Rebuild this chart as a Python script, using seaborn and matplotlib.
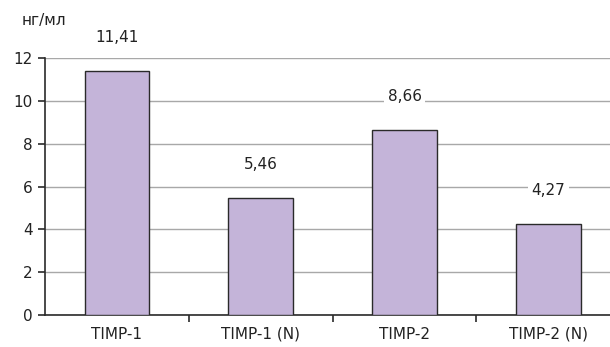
import pandas as pd
import seaborn as sns
import matplotlib.pyplot as plt
from matplotlib.ticker import FixedLocator, NullFormatter

categories = ['TIMP-1', 'TIMP-1 (N)', 'TIMP-2', 'TIMP-2 (N)']
values = [11.41, 5.46, 8.66, 4.27]
value_labels = ['11,41', '5,46', '8,66', '4,27']
y_ticks = [0, 2, 4, 6, 8, 10, 12]
unit_label = 'нг/мл'

sns.set_style('white')
plt.rcParams['font.family'] = ['DejaVu Sans']
plt.rcParams['font.size'] = 11

df = pd.DataFrame({'cat': categories, 'val': values})

fig = plt.figure(figsize=(6.10, 3.47), dpi=100)
ax = fig.add_axes([0.0738, 0.092, 0.943, 0.741])

sns.barplot(data=df, x='cat', y='val', color='#c4b4d9', saturation=1,
            width=0.45, edgecolor='#2a2a2a', linewidth=1.0, ax=ax, zorder=3)

ax.set_ylim(0, 12)
ax.set_xlim(-0.5, 3.5)
ax.set_yticks(y_ticks)
ax.yaxis.grid(True, color='#a8a8a8', linewidth=1.0, zorder=0)
ax.set_axisbelow(True)
ax.set_xlabel('')
ax.set_ylabel('')

for s in ['top', 'right']:
    ax.spines[s].set_visible(False)
for s in ['left', 'bottom']:
    ax.spines[s].set_color('#2a2a2a')
    ax.spines[s].set_linewidth(1.2)

ax.tick_params(axis='y', which='major', left=True, length=5, width=1.2,
               color='#2a2a2a', labelsize=11, labelcolor='#222222', pad=4)
ax.tick_params(axis='x', which='major', bottom=False, labelsize=11,
               labelcolor='#222222', pad=5)
ax.xaxis.set_minor_locator(FixedLocator([0.5, 1.5, 2.5]))
ax.xaxis.set_minor_formatter(NullFormatter())
ax.tick_params(axis='x', which='minor', bottom=True, length=5, width=1.2,
               color='#2a2a2a')

for i, (v, lab) in enumerate(zip(values, value_labels)):
    ax.annotate(lab, (i, v), xytext=(0, 24), textcoords='offset points',
                ha='center', va='center', fontsize=11, color='#222222',
                bbox=dict(boxstyle='square,pad=0.25', fc='white', ec='none'),
                zorder=5)

fig.text(0.036, 0.942, unit_label, fontsize=11, color='#222222',
         ha='left', va='center')

fig.savefig('out.png', dpi=100)
